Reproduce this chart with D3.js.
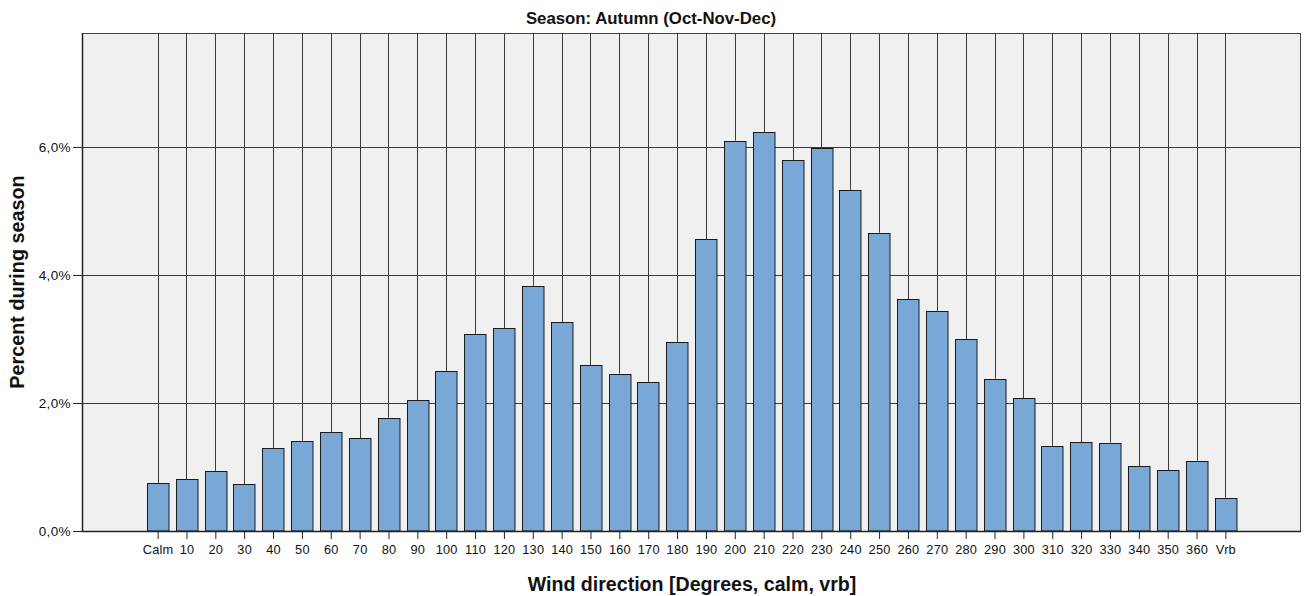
<!DOCTYPE html>
<html><head><meta charset="utf-8">
<script src="https://cdn.jsdelivr.net/npm/d3@7"></script>
<style>body{margin:0;background:#fff;font-family:"Liberation Sans",Arial,sans-serif;}</style>
</head><body><svg id="c" width="1306" height="596"></svg>
<script>
const categories = ["Calm","10","20","30","40","50","60","70","80","90","100","110","120","130","140","150","160","170","180","190","200","210","220","230","240","250","260","270","280","290","300","310","320","330","340","350","360","Vrb"];
const values = [0.75,0.81,0.94,0.73,1.29,1.41,1.54,1.45,1.77,2.04,2.50,3.08,3.17,3.83,3.26,2.59,2.46,2.33,2.95,4.56,6.10,6.23,5.79,5.98,5.33,4.66,3.62,3.44,3.00,2.38,2.07,1.33,1.39,1.38,1.01,0.95,1.10,0.52];
const yTicks = [0,2,4,6];
const title = "Season: Autumn (Oct-Nov-Dec)";
const xTitle = "Wind direction [Degrees, calm, vrb]";
const yTitle = "Percent during season";

const FONT = "Liberation Sans, Arial, sans-serif";
const svg = d3.select("#c");
const L = 82, R = 1301, T = 33, B = 531;
const x = d3.scalePoint().domain(categories).range([L, R]).padding(2.62);
const y = d3.scaleLinear().domain([0, 7.78]).range([B, T]);
const bw = 21.5;
const fmt = v => d3.format(".1f")(v).replace(".", ",") + "%";

svg.append("rect").attr("x", L).attr("y", T).attr("width", R - L).attr("height", B - T).attr("fill", "#f0f0f0");

// horizontal grid
svg.append("g").selectAll("line").data(yTicks.filter(d => d > 0)).join("line")
  .attr("x1", L).attr("x2", R).attr("y1", d => Math.round(y(d)) + 0.5).attr("y2", d => Math.round(y(d)) + 0.5)
  .attr("stroke", "#3a3a3a").attr("stroke-width", 1);

// vertical grid lines from top to bar top
svg.append("g").selectAll("line").data(categories).join("line")
  .attr("x1", d => Math.round(x(d)) + 0.5).attr("x2", d => Math.round(x(d)) + 0.5)
  .attr("y1", T).attr("y2", (d, i) => y(values[i]))
  .attr("stroke", "#3a3a3a").attr("stroke-width", 1);

// bars
svg.append("g").selectAll("rect").data(values).join("rect")
  .attr("x", (d, i) => Math.round(x(categories[i]) - bw / 2) + 0.5)
  .attr("y", d => Math.round(y(d)) + 0.5)
  .attr("width", bw)
  .attr("height", d => B - Math.round(y(d)) - 0.5)
  .attr("fill", "#79a8d6").attr("stroke", "#1a1a1a").attr("stroke-width", 1);

// frame
svg.append("rect").attr("x", L + 0.5).attr("y", T + 0.5).attr("width", R - L - 1).attr("height", B - T)
  .attr("fill", "none").attr("stroke", "#444").attr("stroke-width", 1);

// axes
const xAxis = svg.append("g").attr("transform", `translate(0,${B})`)
  .call(d3.axisBottom(x).tickSize(8).tickPadding(6));
xAxis.select(".domain").attr("stroke", "#222").attr("stroke-width", 1.5).attr("d", `M${L},0.5H${R}`);
xAxis.selectAll(".tick line").attr("stroke", "#222");
xAxis.selectAll("text").attr("font-family", FONT).attr("font-size", 12.8).attr("letter-spacing", 0.2).attr("fill", "#111");

const yAxis = svg.append("g").attr("transform", `translate(${L},0)`)
  .call(d3.axisLeft(y).tickValues(yTicks).tickFormat(fmt).tickSize(9).tickPadding(2));
yAxis.select(".domain").attr("stroke", "#222").attr("stroke-width", 1.5).attr("d", `M0.5,${T}V${B}`);
yAxis.selectAll(".tick line").attr("stroke", "#222");
yAxis.selectAll("text").attr("font-family", FONT).attr("font-size", 13.5).attr("letter-spacing", 0.4).attr("fill", "#111");

svg.append("text").attr("x", 651).attr("y", 24).attr("text-anchor", "middle")
  .attr("font-family", FONT).attr("font-weight", "bold").attr("font-size", 16.8)
  .attr("fill", "#111").text(title);
svg.append("text").attr("x", 692).attr("y", 591).attr("text-anchor", "middle")
  .attr("font-family", FONT).attr("font-weight", "bold").attr("font-size", 19.6)
  .attr("fill", "#111").text(xTitle);
svg.append("text").attr("transform", "translate(24,282) rotate(-90)").attr("text-anchor", "middle")
  .attr("font-family", FONT).attr("font-weight", "bold").attr("font-size", 19.8)
  .attr("fill", "#111").text(yTitle);
</script></body></html>
